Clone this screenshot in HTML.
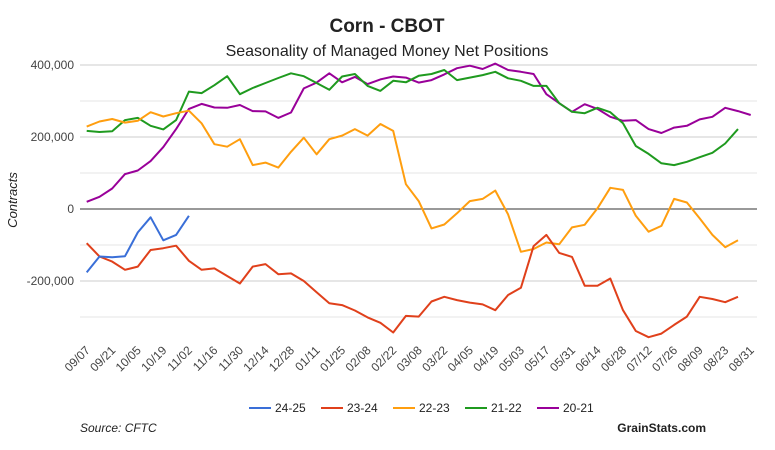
<!DOCTYPE html>
<html><head><meta charset="utf-8">
<style>
html,body{margin:0;padding:0;background:#fff;}
svg{display:block;font-family:"Liberation Sans",Arial,sans-serif;}
</style></head>
<body>
<svg id="chart" width="775" height="450" viewBox="0 0 775 450">
<text x="387" y="32" text-anchor="middle" font-size="19" font-weight="bold" fill="#222">Corn - CBOT</text>
<text x="387" y="56" text-anchor="middle" font-size="16" fill="#222">Seasonality of Managed Money Net Positions</text>
<text transform="translate(17,200) rotate(-90)" text-anchor="middle" font-size="13" font-style="italic" fill="#222">Contracts</text>
<g id="grid"></g>
<g id="yticks"></g>
<g id="xticks"></g>
<g id="series"></g>
<g id="legend"></g>
<text x="80" y="432" font-size="12" font-style="italic" fill="#222">Source: CFTC</text>
<text x="706" y="432" text-anchor="end" font-size="12" font-weight="bold" fill="#222">GrainStats.com</text>
</svg>
<script>
const xLabels = ["09/07","09/21","10/05","10/19","11/02","11/16","11/30","12/14","12/28","01/11","01/25","02/08","02/22","03/08","03/22","04/05","04/19","05/03","05/17","05/31","06/14","06/28","07/12","07/26","08/09","08/23","08/31"];
const yTicks = [-300000,-200000,-100000,0,100000,200000,300000,400000];
const yTickLabels = {"-200000":"-200,000","0":"0","200000":"200,000","400000":"400,000"};
const seriesNames = ["24-25","23-24","22-23","21-22","20-21"];
const seriesColors = ["#3a6fd8","#e0401b","#ff9e0f","#1f9a1f","#990099"];
const s2425 = [-176,-132,-134,-131,-65,-23,-87,-72,-19];
const s2324 = [-95,-132,-146,-169,-160,-114,-109,-102,-144,-169,-165,-186,-207,-160,-153,-181,-179,-200,-231,-262,-267,-282,-301,-316,-343,-297,-299,-257,-244,-253,-260,-265,-281,-239,-219,-103,-72,-122,-133,-213,-213,-193,-281,-339,-356,-346,-322,-299,-244,-250,-259,-244];
const s2223 = [229,243,250,240,245,269,257,266,273,238,180,173,194,122,129,115,159,198,152,194,204,222,204,236,217,69,22,-54,-43,-12,22,28,51,-15,-119,-111,-93,-98,-51,-44,2,59,53,-19,-63,-47,28,18,-26,-72,-106,-87];
const s2122 = [217,214,216,247,253,231,221,247,326,322,344,369,319,336,350,364,377,369,350,331,368,375,342,328,356,352,370,375,386,358,365,372,381,363,356,342,342,294,270,266,281,269,238,175,153,127,122,131,144,156,182,222];
const s2021 = [20,34,57,97,107,133,172,222,278,292,282,281,289,272,271,253,268,335,351,377,352,367,347,360,368,365,351,358,374,391,398,389,404,386,381,375,319,294,270,291,278,256,245,247,222,211,226,231,249,256,281,272,261];
const allSeries = [s2425,s2324,s2223,s2122,s2021];

const NS="http://www.w3.org/2000/svg";
const X0=86.7, STEP=12.77, PL=80, PR=757;
function xScale(i){return X0+i*STEP;}
function yScale(v){return 209-v*0.36/1000;}
function mk(tag,attrs,parent){const e=document.createElementNS(NS,tag);for(const k in attrs)e.setAttribute(k,attrs[k]);parent.appendChild(e);return e;}

const grid=document.getElementById('grid'), yt=document.getElementById('yticks');
yTicks.forEach(v=>{
  const y=yScale(v);
  const l=mk('line',{x1:PL,x2:PR,y1:y,y2:y,stroke:v===0?'#333':(v%200000===0?'#ccc':'#e6e6e6'),'stroke-width':1},grid);
  
  
  const lab=yTickLabels[String(v)];
  if(lab!==undefined){
    const t=mk('text',{x:74,y:y+4,'text-anchor':'end','font-size':12,fill:'#444'},yt);
    t.textContent=lab;
    
    
  }
});
const xt=document.getElementById('xticks');
xLabels.forEach((lab,j)=>{
  const i=Math.min(j*2,52);
  const x=xScale(i)+4, y=351;
  const t=mk('text',{x:x,y:y,'text-anchor':'end','font-size':12,fill:'#444',transform:`rotate(-45 ${x} ${y})`},xt);
  t.textContent=lab;
  
  
});
const sg=document.getElementById('series');
for(let s=allSeries.length-1;s>=0;s--){
  const d=allSeries[s].map((v,i)=>(i?'L':'M')+xScale(i).toFixed(1)+' '+yScale(v*1000).toFixed(1)).join(' ');
  const p=mk('path',{d:d,fill:'none',stroke:seriesColors[s],'stroke-width':2,'stroke-linejoin':'round'},sg);
  
  
}
const lg=document.getElementById('legend');
seriesNames.forEach((n,i)=>{
  const x=249+i*72;
  const g=mk('g',{},lg);
  
  
  mk('line',{x1:x,x2:x+22,y1:408,y2:408,stroke:seriesColors[i],'stroke-width':2},g);
  const t=mk('text',{x:x+26,y:412,'font-size':12,fill:'#222'},g);
  t.textContent=n;
});
</script>
</body></html>
